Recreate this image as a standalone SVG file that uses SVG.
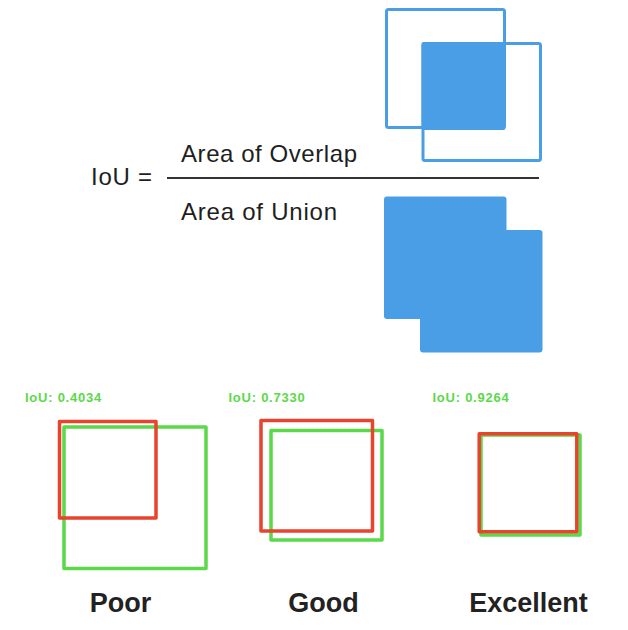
<svg xmlns="http://www.w3.org/2000/svg" width="628" height="630" viewBox="0 0 628 630">
<style>
.blue{fill:#4A9EE6}
.bo{fill:none;stroke:#4A9EE6;stroke-width:3}
.eq{font-family:"Liberation Sans",Arial,sans-serif;font-size:24px;fill:#1e1e1e}
.iou{font-family:"Liberation Sans",Arial,sans-serif;font-weight:bold;font-size:13px;fill:#5BD94A;letter-spacing:0.75px}
.g{fill:none;stroke:#5BD94A;stroke-width:3.5;stroke-linejoin:round}
.r{fill:none;stroke:#E8432C;stroke-width:3.5;stroke-linejoin:round}
.lbl{font-family:"Liberation Sans",Arial,sans-serif;font-weight:bold;font-size:27px;fill:#222;text-anchor:middle}
</style>
<rect width="628" height="630" fill="#fff"/>
<g id="formula">
<text class="eq" x="91" y="185" textLength="61">IoU =</text>
<text class="eq" x="181" y="162" textLength="176">Area of Overlap</text>
<line x1="167" y1="178" x2="539" y2="178" stroke="#333" stroke-width="2"/>
<text class="eq" x="181" y="220" textLength="156">Area of Union</text>
</g>
<g id="overlap">
<rect class="blue" x="421.5" y="42" width="84" height="88" rx="2"/>
<rect class="bo" x="386.5" y="9.5" width="118" height="118" rx="2"/>
<rect class="bo" x="423" y="43.5" width="117.5" height="117" rx="2"/>
</g>
<g id="union">
<rect class="blue" x="384" y="196.5" width="122.5" height="122.5" rx="3"/>
<rect class="blue" x="420" y="230" width="122.5" height="122.5" rx="3"/>
</g>
<g id="poor">
<text class="iou" x="25" y="401.5">IoU: 0.4034</text>
<rect class="g" x="64" y="427" width="142" height="141.5"/>
<rect class="r" x="59.5" y="421.5" width="96.5" height="96.5"/>
<text class="lbl" x="120.5" y="612">Poor</text>
</g>
<g id="good">
<text class="iou" x="228.5" y="401.5">IoU: 0.7330</text>
<rect class="g" x="271" y="430.5" width="111" height="109.5"/>
<rect class="r" x="261" y="420.5" width="111.5" height="110.5"/>
<text class="lbl" x="323.5" y="612">Good</text>
</g>
<g id="excellent">
<text class="iou" x="432.5" y="401.5">IoU: 0.9264</text>
<rect class="g" x="481" y="435" width="99" height="100"/>
<rect class="r" x="479.2" y="433.8" width="97.6" height="98"/>
<text class="lbl" x="528.5" y="612">Excellent</text>
</g>
</svg>
